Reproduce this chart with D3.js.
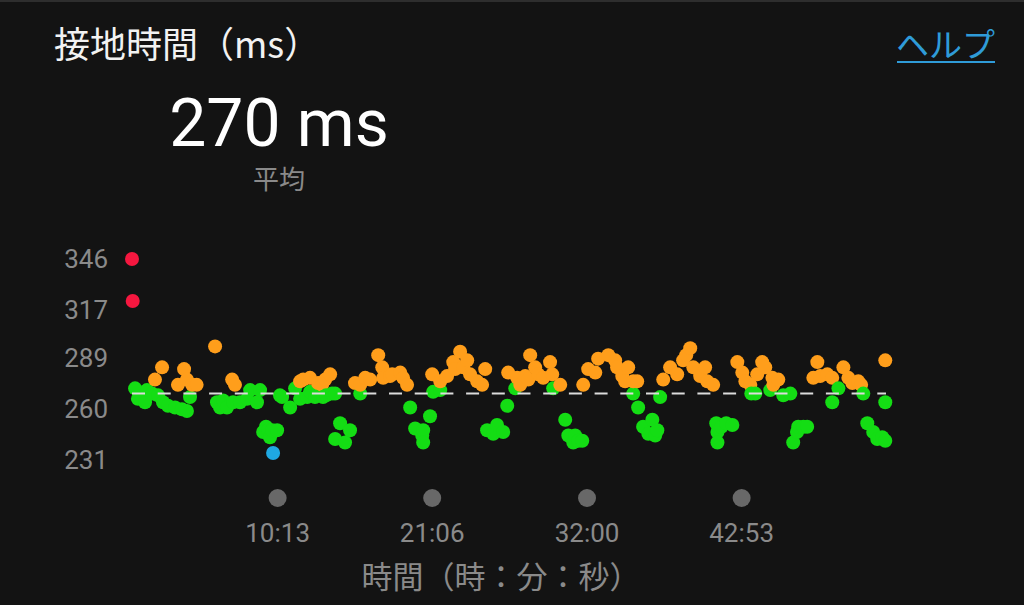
<!DOCTYPE html>
<html>
<head>
<meta charset="utf-8">
<script src="https://cdn.jsdelivr.net/npm/d3@7"></script>
<style>
  html, body { margin: 0; padding: 0; background: #131313; }
  svg { display: block; }
</style>
</head>
<body>
<svg id="chart" width="1024" height="605"></svg>
<script>
// ---- Data (time in seconds, ground contact time in ms) ----
const titleText = "接地時間（ms）";
const helpText = "ヘルプ";
const averageLabel = "270 ms";
const averageSub = "平均";
const xAxisTitle = "時間（時：分：秒）";

const yTicks = [346, 317, 289, 260, 231];
const xTicks = [613, 1266, 1920, 2573];
const durationSec = 3185;
const averageValue = 269;

const redPoints = [[0, 346], [3, 322]];
const bluePoints = [[596, 235]];
const greenPoints = [
  [13,272],[25,266],[55,264],[63,271],[85,269],[110,268],[131,264],[152,262],[182,261],[211,260],[232,259],[245,267],
  [359,264],[372,261],[385,265],[401,261],[427,264],[456,264],[486,266],[499,271],[528,264],[541,271],
  [554,247],[566,250],[575,248],[583,244],[592,248],[613,248],
  [625,268],[634,267],[668,261],[689,272],[710,266],[740,267],[752,270],[773,267],[782,269],[807,267],[820,268],[845,269],[858,269],
  [858,243],[879,252],[900,241],[921,248],
  [964,269],
  [1175,261],[1196,249],[1226,245],[1230,248],[1230,241],[1259,256],
  [1272,270],[1302,271],
  [1500,248],[1526,246],[1542,251],[1568,247],[1585,262],[1619,272],
  [1779,272],
  [1830,254],[1843,245],[1864,241],[1872,245],[1885,242],[1902,242],
  [2117,269],[2138,261],[2159,250],[2181,246],[2198,254],[2210,245],[2219,248],[2231,267],
  [2468,252],[2473,247],[2473,241],[2490,250],[2510,252],[2536,251],
  [2616,269],[2633,269],[2696,271],[2751,268],[2781,269],
  [2793,241],[2809,247],[2814,250],[2836,250],[2852,250],
  [2958,264],[2984,272],[3089,269],[3182,264],
  [3106,252],[3131,247],[3148,243],[3169,244],[3182,242]
];
const orangePoints = [
  [97,277],[127,284],[194,274],[220,283],[232,277],[254,274],[273,274],
  [351,296],[423,277],[435,274],
  [710,276],[723,277],[752,278],[786,275],[803,274],[816,277],[837,280],
  [942,275],[964,274],[985,278],[1006,277],[1040,291],[1057,284],[1061,278],[1090,279],[1099,280],[1133,281],[1145,278],[1162,274],
  [1268,280],[1302,276],[1331,279],[1357,287],[1365,283],[1386,293],[1399,284],[1416,288],[1428,280],[1458,276],[1479,274],[1492,283],
  [1589,281],[1627,278],[1640,274],[1661,279],[1674,277],[1682,291],[1703,284],[1716,280],[1737,278],[1766,287],[1775,280],[1809,274],
  [1906,274],[1927,283],[1957,281],[1969,289],[2012,291],[2041,288],[2049,284],[2071,279],[2083,276],[2096,284],[2117,276],[2134,276],
  [2244,277],[2273,284],[2303,280],[2328,288],[2341,291],[2358,295],[2371,284],[2400,279],[2421,284],[2430,276],[2455,274],
  [2557,287],[2578,281],[2591,276],[2612,274],[2641,280],[2662,287],[2675,284],[2705,278],[2709,274],[2730,277],
  [2878,278],[2895,287],[2907,279],[2937,280],[2958,278],[3005,284],[3026,278],[3043,275],[3068,276],[3080,274],[3182,288]
];

const zoneColors = { red: "#f5173f", orange: "#ff9e1b", green: "#14dd14", blue: "#1fa8e2" };

// ---- Drawing ----
const svg = d3.select("#chart");
const W = 1024, H = 605;
svg.append("rect").attr("width", W).attr("height", H).attr("fill", "#131313");
svg.append("rect").attr("width", W).attr("height", 2).attr("fill", "#2e2e2e");

const cjk = "'Noto Sans CJK JP', 'Noto Sans', sans-serif";
const num = "Roboto, 'Liberation Sans', sans-serif";

svg.append("text").text(titleText)
  .attr("x", 54).attr("y", 58)
  .attr("font-family", cjk).attr("font-size", 36)
  .attr("fill", "#f2f2f2");

svg.append("text").text(helpText)
  .attr("x", 995).attr("y", 57).attr("text-anchor", "end")
  .attr("font-family", cjk).attr("font-size", 33)
  .attr("fill", "#2f9bd8");
svg.append("rect").attr("x", 897).attr("y", 61).attr("width", 98).attr("height", 2).attr("fill", "#2f9bd8");

svg.append("text").text(averageLabel)
  .attr("x", 279).attr("y", 146).attr("text-anchor", "middle")
  .attr("font-family", num).attr("font-size", 66)
  .attr("fill", "#ffffff");
svg.append("text").text(averageSub)
  .attr("x", 279).attr("y", 189).attr("text-anchor", "middle")
  .attr("font-family", cjk).attr("font-size", 26)
  .attr("fill", "#8a8a8a");

const x = d3.scaleLinear().domain([0, durationSec]).range([132, 886]);
const y = d3.scaleLinear().domain([231, 346]).range([460, 259]);

// Y axis
const yAxis = svg.append("g").attr("transform", "translate(108,0)")
  .call(d3.axisLeft(y).tickValues(yTicks).tickSize(0).tickPadding(0).tickFormat(d3.format("d")));
yAxis.select(".domain").remove();
yAxis.selectAll("text").attr("font-family", num).attr("font-size", 26).attr("fill", "#8a8a8a");

// X axis
const fmt = s => Math.floor(s / 60) + ":" + String(s % 60).padStart(2, "0");
const xAxis = svg.append("g").attr("transform", "translate(0,498)")
  .call(d3.axisBottom(x).tickValues(xTicks).tickSize(0).tickPadding(26).tickFormat(fmt));
xAxis.select(".domain").remove();
xAxis.selectAll(".tick").append("circle").attr("r", 9).attr("fill", "#686868");
xAxis.selectAll("text").attr("font-family", num).attr("font-size", 26).attr("fill", "#8a8a8a");

svg.append("text").text(xAxisTitle)
  .attr("x", 501).attr("y", 588).attr("text-anchor", "middle")
  .attr("font-family", cjk).attr("font-size", 31)
  .attr("fill", "#8a8a8a");

// Points, drawn in time order
const all = [
  ...greenPoints.map(d => ({t: d[0], v: d[1], c: zoneColors.green})),
  ...orangePoints.map(d => ({t: d[0], v: d[1], c: zoneColors.orange})),
  ...redPoints.map(d => ({t: d[0], v: d[1], c: zoneColors.red})),
  ...bluePoints.map(d => ({t: d[0], v: d[1], c: zoneColors.blue}))
].sort((a, b) => a.t - b.t);

svg.append("g").selectAll("circle").data(all).join("circle")
  .attr("cx", d => x(d.t)).attr("cy", d => y(d.v))
  .attr("r", 7).attr("fill", d => d.c);

// Average dashed line
svg.append("line")
  .attr("x1", x(0)).attr("x2", x(durationSec))
  .attr("y1", y(averageValue)).attr("y2", y(averageValue))
  .attr("stroke", "#dcdcdc").attr("stroke-width", 2)
  .attr("stroke-dasharray", "13,12.7");
</script>
</body>
</html>
